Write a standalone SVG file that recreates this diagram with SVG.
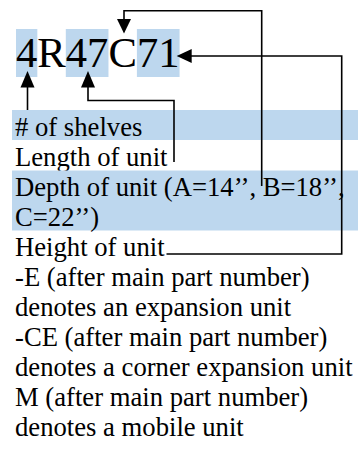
<svg xmlns="http://www.w3.org/2000/svg" width="358" height="450" viewBox="0 0 358 450">
<style>
  .t{font-family:"Liberation Serif","Times New Roman",serif;font-size:26.67px;fill:#000}
  .big{font-family:"Liberation Serif","Times New Roman",serif;font-size:42.67px;fill:#000}
  .hl{fill:#BDD7EE}
  .c{fill:none;stroke:#000;stroke-width:1.6}
  .ah{fill:#000}
</style>
<rect width="358" height="450" fill="#fff"/>
<g id="code">
  <rect class="hl" x="16" y="29" width="21.33" height="48"/>
  <rect class="hl" x="65.8" y="29" width="42.67" height="48"/>
  <rect class="hl" x="136.9" y="29" width="42.67" height="48"/>
  <text class="big" x="16" y="67">4R47C71</text>
</g>
<g id="shelves">
  <rect class="hl" x="12" y="110" width="346" height="30"/>
  <text class="t" x="15" y="135.5"># of shelves</text>
</g>
<g id="length">
  <text class="t" x="15" y="165.5">Length of unit</text>
</g>
<g id="depth">
  <rect class="hl" x="12" y="170.5" width="346" height="60"/>
  <text class="t" x="15" y="195.5">Depth of unit (A=14’’, B=18’’,</text>
  <text class="t" x="15" y="225.5">C=22’’)</text>
</g>
<g id="height">
  <text class="t" x="15" y="255.5">Height of unit</text>
</g>
<g id="notes">
  <text class="t" x="15" y="285.5">-E (after main part number)</text>
  <text class="t" x="15" y="315.5">denotes an expansion unit</text>
  <text class="t" x="15" y="345.5">-CE (after main part number)</text>
  <text class="t" x="15" y="375.5">denotes a corner expansion unit</text>
  <text class="t" x="15" y="405.5">M (after main part number)</text>
  <text class="t" x="15" y="435.5">denotes a mobile unit</text>
</g>
<g id="connectors">
  <path class="c" d="M27.5,110 V86"/>
  <polygon class="ah" points="27.5,71 20.5,87.5 34.5,87.5"/>
  <path class="c" d="M174,162 V100.5 H88 V86"/>
  <polygon class="ah" points="88,71 81,87.5 95,87.5"/>
  <path class="c" d="M261.7,186 V10.7 H124 V20"/>
  <polygon class="ah" points="124,33.5 117,19 131,19"/>
  <path class="c" d="M166.5,254 H341.7 V56 H190"/>
  <polygon class="ah" points="176.7,56 191.7,49 191.7,63"/>
</g>
</svg>
